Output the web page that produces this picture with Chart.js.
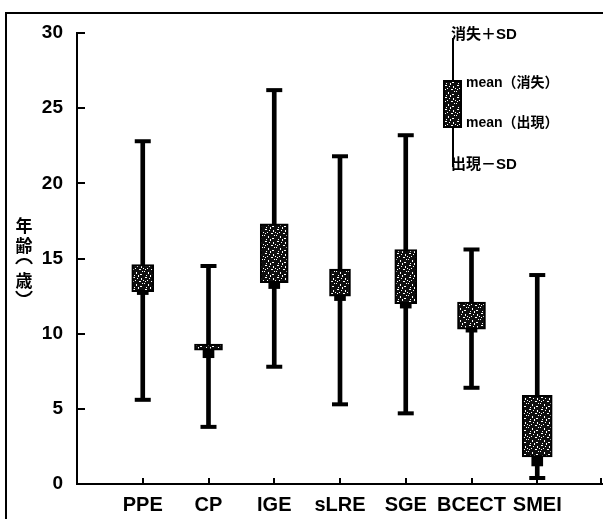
<!DOCTYPE html>
<html><head><meta charset="utf-8">
<script src="https://cdn.jsdelivr.net/npm/chart.js@4"></script>
<style>html,body{margin:0;padding:0;background:#fff}canvas{display:block}</style>
</head><body>
<canvas id="c" width="603" height="519"></canvas>
<script>
// ---- data ----
const categories = ['PPE', 'CP', 'IGE', 'sLRE', 'SGE', 'BCECT', 'SMEI'];
const onsetMinusSD = [5.6, 3.8, 7.8, 5.3, 4.7, 6.4, 0.4];        // 出現−SD
const remissionPlusSD = [22.8, 14.5, 26.2, 21.8, 23.2, 15.6, 13.9]; // 消失+SD
const meanOnset = [12.8, 8.9, 13.4, 12.5, 12.0, 10.3, 1.8];         // mean(出現)
const meanRemission = [14.6, 9.3, 17.3, 14.3, 15.6, 12.1, 5.9];     // mean(消失)
const neckLow = [12.6, 8.4, 13.0, 12.2, 11.7, 10.1, 1.2];           // thick segment under box
const yTicks = [0, 5, 10, 15, 20, 25, 30];

// ---- styles ----
const boxWidths = [22, 28, 28, 21, 22, 28, 30];
const FONT = '"Liberation Sans", "Noto Sans CJK JP", sans-serif';
const CJK = '"Noto Sans CJK JP", "Liberation Sans", sans-serif';

const canvas = document.getElementById('c');
const ctx0 = canvas.getContext('2d');
function makePattern() {
  const t = document.createElement('canvas');
  t.width = 12; t.height = 12;
  const g = t.getContext('2d');
  g.fillStyle = '#0e0e0e'; g.fillRect(0, 0, 12, 12);
  g.fillStyle = '#ffffff';
  const specks = [[1,1,2,1],[6,0,1,1],[9,2,1,2],[3,4,1,1],[7,5,2,1],[0,7,1,1],[4,8,1,2],
                  [10,7,1,1],[8,10,2,1],[2,11,1,1],[5,2,1,1],[11,4,1,1],[6,11,1,1],[1,5,1,1]];
  specks.forEach(([x, y, w, h]) => g.fillRect(x, y, w, h));
  return ctx0.createPattern(t, 'repeat');
}
const pattern = makePattern();

const labels = ['', ...categories, ''];

const boxDatasets = categories.map((c, i) => ({
  type: 'bar',
  data: [{ x: c, y: [meanOnset[i], meanRemission[i]] }],
  backgroundColor: pattern,
  borderColor: '#000',
  borderWidth: 2,
  borderSkipped: false,
  barThickness: boxWidths[i],
  grouped: false,
  order: 1
}));

const neckDataset = {
  type: 'bar',
  data: categories.map((c, i) => ({ x: c, y: [neckLow[i], meanOnset[i]] })),
  backgroundColor: '#000',
  barThickness: 11,
  grouped: false,
  order: 2
};

const whiskerDataset = {
  type: 'bar',
  data: categories.map((c, i) => ({ x: c, y: [onsetMinusSD[i], remissionPlusSD[i]] })),
  backgroundColor: '#000',
  barThickness: 4,
  grouped: false,
  order: 3
};

const capDataset = {
  type: 'line',
  showLine: false,
  data: categories.flatMap((c, i) => [{ x: c, y: remissionPlusSD[i] }, { x: c, y: onsetMinusSD[i] }]),
  pointStyle: 'line',
  pointRadius: 8,
  pointHoverRadius: 8,
  pointBorderWidth: 4,
  pointBorderColor: '#000',
  clip: false,
  order: 4
};

const decor = {
  id: 'decor',
  beforeDraw(chart) {
    const c = chart.ctx;
    c.save(); c.fillStyle = '#fff'; c.fillRect(0, 0, chart.width, chart.height); c.restore();
  },
  afterDraw(chart) {
    const c = chart.ctx, xs = chart.scales.x, ys = chart.scales.y, a = chart.chartArea;
    c.save();
    c.strokeStyle = '#000'; c.fillStyle = '#000';
    // outer frame (left and top)
    c.lineWidth = 2;
    c.beginPath(); c.moveTo(6, 519); c.lineTo(6, 13); c.lineTo(603, 13); c.stroke();
    // inward y ticks
    c.lineWidth = 2;
    c.beginPath();
    ys.ticks.forEach(t => {
      const y = Math.round(ys.getPixelForValue(t.value));
      c.moveTo(a.left, y); c.lineTo(a.left + 8, y);
    });
    c.stroke();
    // inward x ticks
    c.beginPath();
    xs.ticks.forEach((t, i) => {
      if (i === 0) return;
      const x = Math.min(601, Math.round(xs.getPixelForTick(i)));
      c.moveTo(x, a.bottom); c.lineTo(x, a.bottom - 6);
    });
    c.stroke();
    // vertical y-axis title 年齢(歳)
    c.textAlign = 'center'; c.textBaseline = 'middle';
    c.font = '700 17px ' + CJK;
    c.fillText('年', 24, 226);
    c.fillText('齢', 24, 246);
    c.fillText('歳', 24, 281);
    c.lineWidth = 2;
    c.beginPath(); c.arc(24, 268, 9, Math.PI * 1.15, Math.PI * 1.85); c.stroke();
    c.beginPath(); c.arc(24, 287, 9, Math.PI * 0.15, Math.PI * 0.85); c.stroke();
    // legend sample
    c.lineWidth = 2;
    c.beginPath(); c.moveTo(453, 38); c.lineTo(453, 167); c.stroke();
    c.fillStyle = pattern;
    c.fillRect(444, 81, 17, 46);
    c.strokeRect(444, 81, 17, 46);
    c.fillStyle = '#000';
    c.textAlign = 'left';
    c.font = '700 15px ' + FONT;
    c.fillText('消失＋SD', 451, 35);
    c.fillText('出現－SD', 451, 165);
    c.font = '700 14px ' + FONT;
    c.fillText('mean（消失）', 466, 83);
    c.fillText('mean（出現）', 466, 123);
    c.restore();
  }
};

new Chart(canvas, {
  type: 'bar',
  data: { labels, datasets: [...boxDatasets, neckDataset, whiskerDataset, capDataset] },
  options: {
    responsive: false,
    animation: false,
    events: [],
    layout: { autoPadding: false, padding: { top: 33, left: 0, right: 0, bottom: 0 } },
    plugins: { legend: { display: false }, tooltip: { enabled: false } },
    scales: {
      x: {
        type: 'category',
        offset: false,
        grid: { display: false, drawTicks: false },
        border: { display: true, color: '#000', width: 2 },
        ticks: { autoSkip: false, maxRotation: 0, padding: 9, color: '#000',
                 font: { family: FONT, size: 20, weight: 'bold' } },
        afterFit(s) { s.height = 35; s.paddingLeft = 0; s.paddingRight = 0; }
      },
      y: {
        min: 0, max: 30,
        afterBuildTicks(s) { s.ticks = yTicks.map(v => ({ value: v })); },
        grid: { display: false, drawTicks: false },
        border: { display: true, color: '#000', width: 2 },
        ticks: { padding: 14, color: '#000', font: { family: FONT, size: 19, weight: 'bold' } },
        afterFit(s) { s.width = 77; s.paddingTop = 0; s.paddingBottom = 0; }
      }
    }
  },
  plugins: [decor]
});
</script>
</body></html>
